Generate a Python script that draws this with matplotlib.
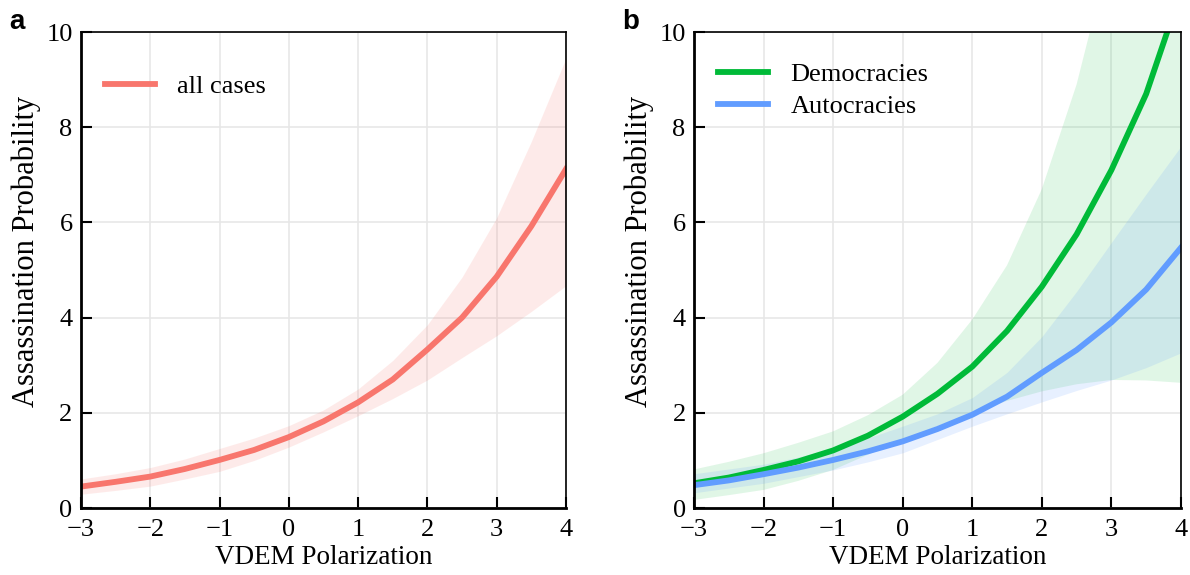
import numpy as np
import matplotlib
matplotlib.use("Agg")
import matplotlib.pyplot as plt

plt.rcParams['font.family'] = ['Liberation Serif', 'DejaVu Serif']
plt.rcParams['font.size'] = 19

# polarization grid
pol = [-3, -2.5, -2, -1.5, -1, -0.5, 0, 0.5, 1, 1.5, 2, 2.5, 3, 3.5, 4]

# panel a: all cases
all_mid = [0.45, 0.55, 0.66, 0.82, 1.01, 1.22, 1.49, 1.82, 2.22, 2.70, 3.33, 4.00, 4.86, 5.92, 7.12]
all_lo = [0.29, 0.37, 0.46, 0.61, 0.77, 1.00, 1.28, 1.60, 1.94, 2.30, 2.69, 3.16, 3.62, 4.13, 4.67]
all_hi = [0.61, 0.72, 0.85, 1.03, 1.25, 1.47, 1.73, 2.06, 2.50, 3.10, 3.85, 4.85, 6.10, 7.70, 9.45]

# panel b: democracies
dem_mid = [0.52, 0.64, 0.80, 0.98, 1.21, 1.52, 1.92, 2.40, 2.97, 3.72, 4.65, 5.75, 7.10, 8.70, 10.85]
dem_lo = [0.17, 0.27, 0.38, 0.57, 0.80, 1.12, 1.43, 1.72, 2.00, 2.25, 2.45, 2.60, 2.69, 2.68, 2.63]
dem_hi = [0.81, 0.97, 1.15, 1.37, 1.61, 1.95, 2.38, 3.05, 3.96, 5.10, 6.70, 8.90, 11.8, 14.5, 17.0]

# panel b: autocracies
aut_mid = [0.48, 0.58, 0.71, 0.85, 1.01, 1.19, 1.40, 1.66, 1.96, 2.34, 2.84, 3.32, 3.90, 4.59, 5.47]
aut_lo = [0.32, 0.42, 0.52, 0.66, 0.80, 0.97, 1.16, 1.44, 1.72, 1.98, 2.23, 2.47, 2.69, 2.95, 3.26]
aut_hi = [0.72, 0.82, 0.92, 1.07, 1.25, 1.47, 1.72, 1.98, 2.32, 2.85, 3.60, 4.55, 5.58, 6.60, 7.60]

RED = '#F8766D'
GREEN = '#00BA38'
BLUE = '#619CFF'

fig = plt.figure(figsize=(11.9, 5.75), dpi=100)
axa = fig.add_axes([0.068, 0.1165, 0.4076, 0.8278])
axb = fig.add_axes([0.5832, 0.1165, 0.4092, 0.8278])


def style(ax):
    ax.set_xlim(-3, 4)
    ax.set_ylim(0, 10)
    ax.set_xticks(range(-3, 5))
    ax.set_yticks([0, 2, 4, 6, 8, 10])
    ax.grid(True, color='#e6e6e6', linewidth=1.1)
    ax.set_axisbelow(True)
    ax.spines['left'].set_linewidth(2.0)
    ax.spines['bottom'].set_linewidth(2.0)
    ax.spines['top'].set_linewidth(1.2)
    ax.spines['right'].set_linewidth(1.2)
    ax.tick_params(direction='in', length=8, width=1.5, labelsize=19)
    ax.tick_params(axis='y', pad=6)
    ax.tick_params(axis='x', pad=8)
    ax.set_xlabel('VDEM Polarization', fontsize=19.5, labelpad=3)
    ax.set_ylabel('Assassination Probability', fontsize=22)
    ax.yaxis.set_label_coords(-0.082, 0.54)


axa.fill_between(pol, all_lo, all_hi, color=RED, alpha=0.15, linewidth=0)
axa.plot(pol, all_mid, color=RED, linewidth=4.2, label='all cases')
style(axa)
axa.legend(loc='upper left', frameon=False, fontsize=19, handlelength=1.9,
           handletextpad=0.85, bbox_to_anchor=(0.0, 0.96))

axb.fill_between(pol, dem_lo, dem_hi, color=GREEN, alpha=0.12, linewidth=0)
axb.fill_between(pol, aut_lo, aut_hi, color=BLUE, alpha=0.15, linewidth=0)
axb.plot(pol, dem_mid, color=GREEN, linewidth=4.2, label='Democracies')
axb.plot(pol, aut_mid, color=BLUE, linewidth=4.2, label='Autocracies')
style(axb)
axb.legend(loc='upper left', frameon=False, fontsize=19, handlelength=1.9,
           handletextpad=0.85, labelspacing=0.32, bbox_to_anchor=(0.0, 0.985))

fig.text(0.008, 0.985, 'a', fontsize=20, fontweight='bold', family='Liberation Sans', va='top')
fig.text(0.523, 0.985, 'b', fontsize=20, fontweight='bold', family='Liberation Sans', va='top')

fig.savefig('out.png', dpi=100)
